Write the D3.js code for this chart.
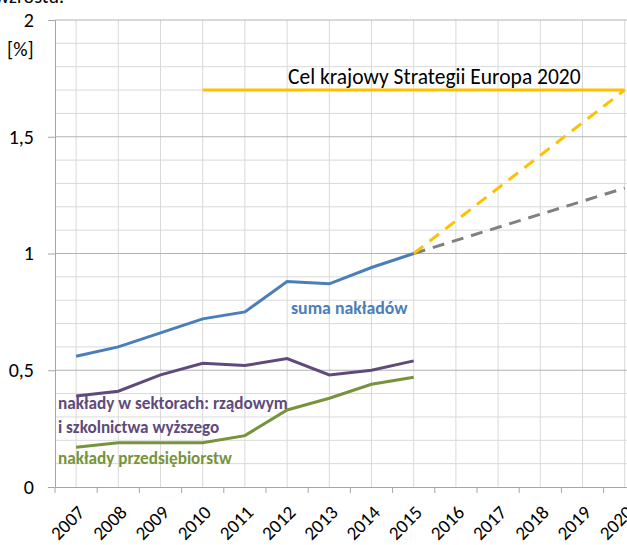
<!DOCTYPE html>
<html>
<head>
<meta charset="utf-8">
<script src="https://cdn.jsdelivr.net/npm/d3@7"></script>
<style>
  body { margin: 0; background: #fff; }
  svg { display: block; font-family: Carlito, Calibri, Lato, sans-serif; }
</style>
</head>
<body>
<svg width="627" height="545"></svg>
<script>
// data
const years = ["2007", "2008", "2009", "2010", "2011", "2012", "2013", "2014", "2015", "2016", "2017", "2018", "2019", "2020"];
const sumaYears = ["2007", "2008", "2009", "2010", "2011", "2012", "2013", "2014", "2015"];
const suma = [0.56, 0.60, 0.66, 0.72, 0.75, 0.88, 0.87, 0.94, 1.00];
const sektory = [0.39, 0.41, 0.48, 0.53, 0.52, 0.55, 0.48, 0.50, 0.54];
const przedsiebiorstwa = [0.17, 0.19, 0.19, 0.19, 0.22, 0.33, 0.38, 0.44, 0.47];
const celYears = ["2010", "2020"];
const celValue = [1.7, 1.7];
const sciezkaYears = ["2015", "2020"];
const sciezkaCel = [1.0, 1.7];
const trend = [1.0, 1.28];
const yTicks = [0, 0.5, 1, 1.5, 2];

const svg = d3.select("svg");

const x = d3.scaleBand()
    .domain(years)
    .range([55, 55 + 14 * 42.2])
    .padding(0);

const y = d3.scaleLinear()
    .domain([0, 2])
    .range([487, 20]);

const cx = d => x(d) + x.bandwidth() / 2;
const fmt = d => String(d).replace(".", ",");

// grid
const grid = svg.append("g");
grid.selectAll("line.minor")
    .data(d3.range(1, 20).map(d => d / 10).filter(d => Math.round(d * 10) % 5 !== 0))
    .enter().append("line")
    .attr("x1", 55).attr("x2", 627)
    .attr("y1", d => y(d)).attr("y2", d => y(d))
    .attr("stroke", "#d9d9d9");
grid.selectAll("line.vert")
    .data(years)
    .enter().append("line")
    .attr("x1", d => cx(d)).attr("x2", d => cx(d))
    .attr("y1", y(2)).attr("y2", y(0))
    .attr("stroke", "#d9d9d9");
grid.selectAll("line.major")
    .data(yTicks.slice(1))
    .enter().append("line")
    .attr("x1", 55).attr("x2", 627)
    .attr("y1", d => y(d)).attr("y2", d => y(d))
    .attr("stroke", "#b3b3b3");

// axes
const yAxis = svg.append("g")
    .attr("transform", "translate(55,0)")
    .call(d3.axisLeft(y).tickValues(yTicks).tickFormat(fmt).tickSize(7).tickPadding(14));
yAxis.select(".domain").attr("stroke", "#a6a6a6");
yAxis.selectAll(".tick line").attr("stroke", "#a6a6a6");
yAxis.selectAll(".tick text")
    .attr("font-family", "Carlito, Calibri, Lato, sans-serif")
    .attr("font-size", 20)
    .attr("fill", "#000");

const xAxis = svg.append("g")
    .attr("transform", `translate(0,${y(0)})`)
    .call(d3.axisBottom(x).tickSize(0).tickFormat(""));
xAxis.select(".domain").attr("stroke", "#a6a6a6");

svg.append("g").selectAll("line")
    .data(years)
    .enter().append("line")
    .attr("x1", d => x(d)).attr("x2", d => x(d))
    .attr("y1", y(0)).attr("y2", y(0) + 6)
    .attr("stroke", "#a6a6a6");

svg.append("g").selectAll("text")
    .data(years)
    .enter().append("text")
    .attr("transform", d => `translate(${cx(d) + 5},${y(0) + 22}) rotate(-45)`)
    .attr("text-anchor", "end")
    .attr("dy", "0.35em")
    .attr("font-size", 19)
    .text(d => d);

svg.append("text").attr("x", 7).attr("y", 56).attr("font-size", 20).text("[%]");
svg.append("text").attr("x", 64).attr("y", 3).attr("text-anchor", "end").attr("font-size", 20).text("wzrostu.");

// lines
const line = (xs) => d3.line()
    .x((d, i) => cx(xs[i]))
    .y(d => y(d));

svg.append("path").datum(celValue)
    .attr("d", line(celYears))
    .attr("fill", "none").attr("stroke", "#ffc000").attr("stroke-width", 3);

svg.append("path").datum(trend)
    .attr("d", line(sciezkaYears))
    .attr("fill", "none").attr("stroke", "#808080").attr("stroke-width", 3)
    .attr("stroke-dasharray", "12,8");

svg.append("path").datum(sciezkaCel)
    .attr("d", line(sciezkaYears))
    .attr("fill", "none").attr("stroke", "#ffc000").attr("stroke-width", 3)
    .attr("stroke-dasharray", "12,8");

svg.append("path").datum(przedsiebiorstwa)
    .attr("d", line(sumaYears))
    .attr("fill", "none").attr("stroke", "#77933c").attr("stroke-width", 3);

svg.append("path").datum(sektory)
    .attr("d", line(sumaYears))
    .attr("fill", "none").attr("stroke", "#604a7b").attr("stroke-width", 3);

svg.append("path").datum(suma)
    .attr("d", line(sumaYears))
    .attr("fill", "none").attr("stroke", "#4a7ebb").attr("stroke-width", 3);

// labels
svg.append("text").attr("x", 288).attr("y", 84).attr("font-size", 21.5)
    .text("Cel krajowy Strategii Europa 2020");
svg.append("text").attr("x", 291).attr("y", 314).attr("font-size", 17.8).attr("font-weight", "bold")
    .attr("fill", "#4a7ebb").text("suma nakładów");
svg.append("text").attr("x", 58).attr("y", 409).attr("font-size", 17.2).attr("font-weight", "bold")
    .attr("fill", "#604a7b").text("nakłady w sektorach: rządowym");
svg.append("text").attr("x", 58).attr("y", 433).attr("font-size", 17.2).attr("font-weight", "bold")
    .attr("fill", "#604a7b").text("i szkolnictwa wyższego");
svg.append("text").attr("x", 58).attr("y", 464).attr("font-size", 17.2).attr("font-weight", "bold")
    .attr("fill", "#77933c").text("nakłady przedsiębiorstw");
</script>
</body>
</html>
